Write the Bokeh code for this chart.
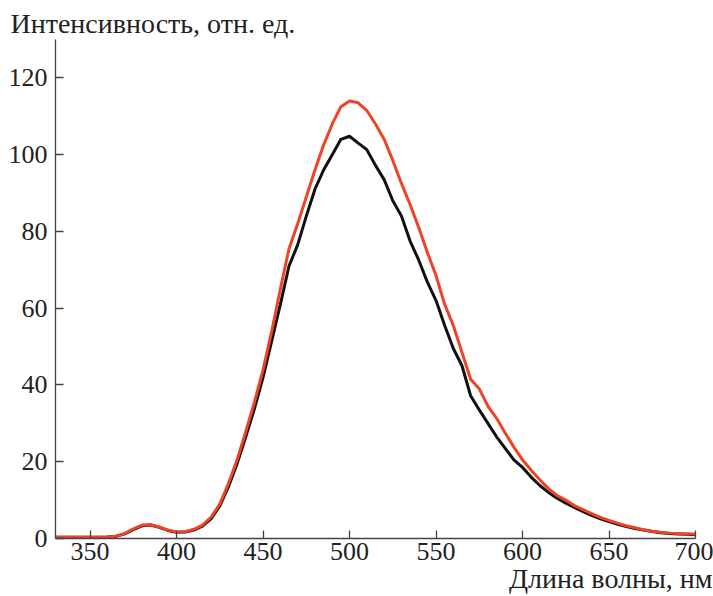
from bokeh.plotting import figure
from bokeh.models import Range1d, Title, FixedTicker
from bokeh.embed import file_html
from bokeh.resources import INLINE

wavelength = [330, 335, 340, 345, 350, 355, 360, 365, 370, 375, 380, 385, 390, 395, 400,
              405, 410, 415, 420, 425, 430, 435, 440, 445, 450, 455, 460, 465, 470, 475,
              480, 485, 490, 495, 500, 505, 510, 515, 520, 525, 530, 535, 540, 545, 550,
              555, 560, 565, 570, 575, 580, 585, 590, 595, 600, 605, 610, 615, 620, 625,
              630, 635, 640, 645, 650, 655, 660, 665, 670, 675, 680, 685, 690, 695, 700]

black_intensity = [0.3, 0.3, 0.3, 0.3, 0.3, 0.3, 0.4, 0.6, 1.2, 2.3, 3.3, 3.5, 2.9, 2.1, 1.6,
                   1.7, 2.2, 3.2, 5.2, 8.5, 13.5, 19.5, 26.5, 33.8, 42.0, 51.5, 61.0, 71.0, 76.5, 84.0,
                   91.0, 96.0, 100.0, 104.0, 104.8, 103.0, 101.3, 97.2, 93.5, 88.0, 84.0, 77.5, 72.5, 66.8, 62.0,
                   55.5, 49.5, 45.0, 37.2, 33.5, 30.0, 26.5, 23.5, 20.5, 18.5, 16.0, 13.8, 12.0, 10.5, 9.2,
                   8.1, 7.0, 6.0, 5.1, 4.4, 3.7, 3.1, 2.6, 2.2, 1.8, 1.5, 1.3, 1.2, 1.1, 1.0]

red_intensity = [0.3, 0.3, 0.3, 0.3, 0.3, 0.3, 0.4, 0.6, 1.3, 2.5, 3.5, 3.6, 3.0, 2.2, 1.7,
                 1.8, 2.4, 3.5, 5.6, 9.0, 14.3, 20.5, 27.8, 35.5, 44.0, 54.0, 65.0, 75.5, 82.0, 89.0,
                 96.0, 102.5, 108.0, 112.5, 114.0, 113.5, 111.5, 108.0, 104.0, 98.5, 92.5, 87.0, 81.0, 74.5, 68.5,
                 61.0, 55.5, 48.5, 41.5, 39.0, 34.5, 31.3, 27.5, 23.8, 20.5, 17.8, 15.3, 13.0, 11.2, 10.0,
                 8.6, 7.5, 6.5, 5.5, 4.7, 4.0, 3.3, 2.8, 2.3, 1.9, 1.6, 1.4, 1.3, 1.2, 1.2]

x_ticks = [350, 400, 450, 500, 550, 600, 650, 700]
y_ticks = [0, 20, 40, 60, 80, 100, 120]

y_label_text = "Интенсивность, отн. ед."
x_label_text = "Длина волны, нм"

FONT = "Liberation Serif"
TEXT_COLOR = "#222222"

p = figure(width=713, height=596, output_backend="svg", toolbar_location=None,
           x_range=Range1d(330, 700), y_range=Range1d(0, 130),
           min_border_left=55, min_border_right=18, min_border_top=39, min_border_bottom=58)

p.outline_line_color = None
p.xgrid.visible = False
p.ygrid.visible = False
p.background_fill_color = "white"

p.line(wavelength, black_intensity, line_color="#111111", line_width=3)
p.line(wavelength, red_intensity, line_color="#EE4426", line_width=3)

for ax in (p.xaxis[0], p.yaxis[0]):
    ax.axis_line_color = "#444444"
    ax.axis_line_width = 1.3
    ax.major_tick_line_color = "#444444"
    ax.major_tick_line_width = 1.3
    ax.major_tick_in = 8
    ax.major_tick_out = 0
    ax.minor_tick_line_color = None
    ax.major_label_text_font = FONT
    ax.major_label_text_font_size = "26px"
    ax.major_label_text_color = TEXT_COLOR

p.xaxis[0].ticker = FixedTicker(ticks=x_ticks)
p.yaxis[0].ticker = FixedTicker(ticks=y_ticks)
p.xaxis[0].major_label_standoff = 4
p.yaxis[0].major_label_standoff = 8

p.add_layout(Title(text=y_label_text, align="left", offset=-45, standoff=2,
                   text_font=FONT, text_font_size="28px", text_font_style="normal",
                   text_color=TEXT_COLOR), "above")
p.add_layout(Title(text=x_label_text, align="right", offset=-17, standoff=0,
                   text_font=FONT, text_font_size="28px", text_font_style="normal",
                   text_color=TEXT_COLOR, vertical_align="top"), "below")

open("out.html", "w").write(file_html(p, INLINE))
